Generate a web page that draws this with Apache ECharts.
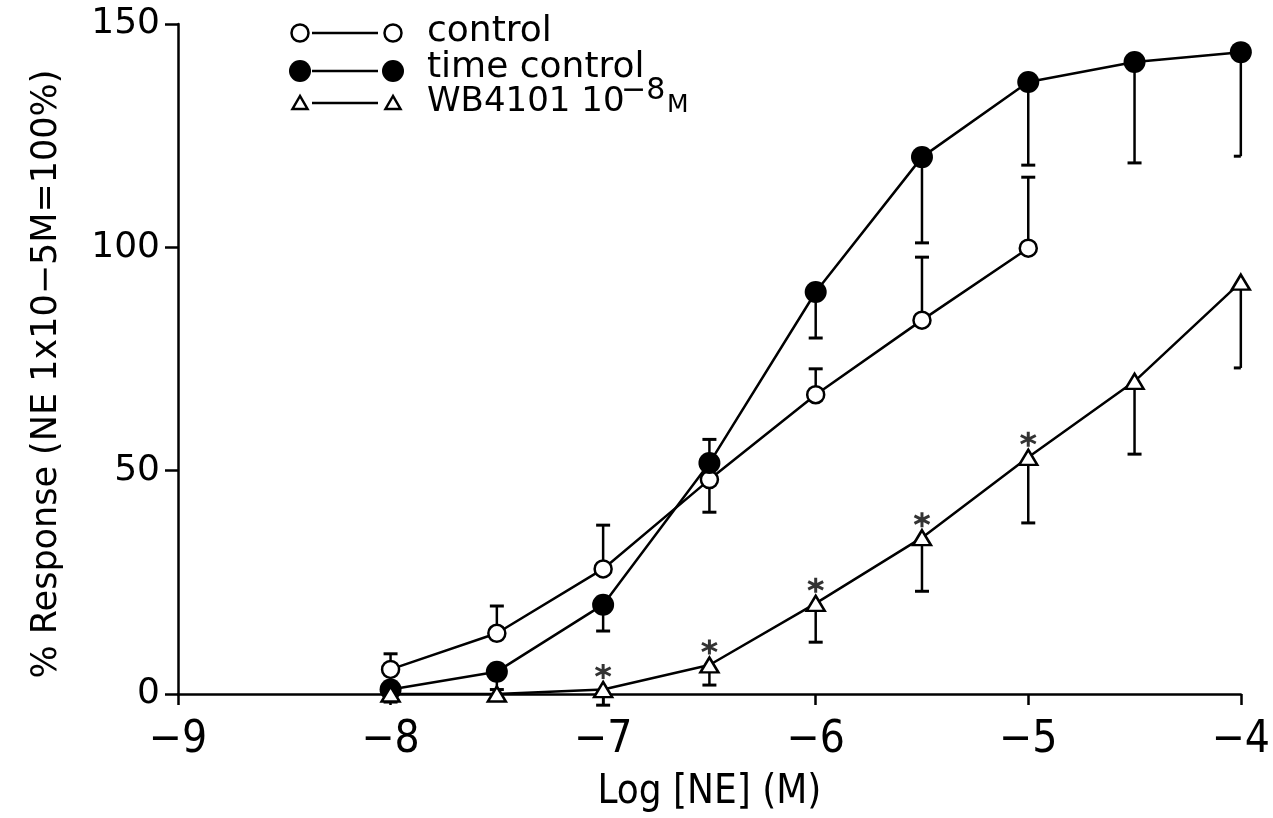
<!DOCTYPE html>
<html>
<head>
<meta charset="utf-8">
<script src="https://cdn.jsdelivr.net/npm/echarts@6/dist/echarts.min.js"></script>
<style>
  html, body { margin: 0; padding: 0; background: #fff; }
  #chart { width: 1273px; height: 818px; }
</style>
</head>
<body>
<div id="chart"></div>
<script>
// log concentrations of NE (M)
var xLog = [-8, -7.5, -7, -6.5, -6, -5.5, -5, -4.5, -4]

// % response
var control = [5.5, 13.6, 28, 48, 67, 83.7, 99.8]
var controlErr = [9, 19.7, 37.8, 40.7, 72.8, 97.8, 115.7]
var timeControl = [1, 5, 20, 51.7, 90, 120.2, 137, 141.5, 143.7]
var timeControlErr = [-1.8, 1, 14.1, 57, 79.7, 101, 118.4, 118.9, 120.4]
var wb4101 = [0, 0, 1, 6.5, 20.3, 35, 53, 70, 92.2]
var wb4101Err = [null, null, -2.5, 2, 11.6, 23, 38.3, 53.7, 73]
// points marked significant (*)
var starX = [-7, -6.5, -6, -5.5, -5]

var yTicks = [0, 50, 100, 150]
var xTicks = [-9, -8, -7, -6, -5, -4]

var FONT = 'DejaVu Sans'
var NARROW = '"Liberation Sans Narrow", "DejaVu Sans Condensed", "Liberation Sans"'

function pairs(vals) {
  return vals.map(function(v, i) { return [xLog[i], v] })
}
function errData(vals, errs) {
  var out = []
  for (var i = 0; i < vals.length; i++) {
    if (errs[i] != null) out.push([xLog[i], vals[i], errs[i]])
  }
  return out
}

function errRender(params, api) {
  var x = api.value(0)
  var p0 = api.coord([x, api.value(1)])
  var p1 = api.coord([x, api.value(2)])
  var half = 7
  var right = x >= xTicks[xTicks.length - 1] ? 0 : half
  return {
    type: 'group',
    children: [
      { type: 'line', shape: { x1: p0[0], y1: p0[1], x2: p1[0], y2: p1[1] }, style: { stroke: '#000', lineWidth: 2.5 } },
      { type: 'line', shape: { x1: p1[0] - half, y1: p1[1], x2: p1[0] + right, y2: p1[1] }, style: { stroke: '#000', lineWidth: 3 } }
    ]
  }
}

function errSeries(vals, errs) {
  return {
    type: 'custom',
    renderItem: errRender,
    data: errData(vals, errs),
    z: 1,
    silent: true
  }
}

function lineSeries(name, vals, symbol, size, fill) {
  return {
    name: name,
    type: 'line',
    data: pairs(vals),
    symbol: symbol,
    symbolSize: size,
    showAllSymbol: true,
    lineStyle: { color: '#000', width: 2.5 },
    itemStyle: { color: fill, borderColor: '#000', borderWidth: fill === '#000' ? 0 : 2.5 },
    z: 3,
    silent: true
  }
}

var starPath = 'path://M0,-1L0,1M-0.866,-0.5L0.866,0.5M-0.866,0.5L0.866,-0.5'

// legend drawn by hand: marker, line, marker, text
function legendRow(y, kind) {
  var items = []
  var xs = [300, 393]
  items.push({ type: 'line', shape: { x1: 312, y1: y, x2: 378, y2: y }, style: { stroke: '#000', lineWidth: 2.5 } })
  xs.forEach(function(cx) {
    if (kind === 'open') {
      items.push({ type: 'circle', shape: { cx: cx, cy: y, r: 8.5 }, style: { fill: '#fff', stroke: '#000', lineWidth: 2.5 } })
    } else if (kind === 'filled') {
      items.push({ type: 'circle', shape: { cx: cx, cy: y, r: 11 }, style: { fill: '#000' } })
    } else {
      items.push({ type: 'polygon', shape: { points: [[cx, y - 7], [cx - 7.5, y + 6], [cx + 7.5, y + 6]] }, style: { fill: '#fff', stroke: '#000', lineWidth: 2.5 } })
    }
  })
  return items
}

var legendGraphics = []
  .concat(legendRow(33, 'open'))
  .concat(legendRow(71, 'filled'))
  .concat(legendRow(103, 'tri'))
  .concat([
    { type: 'text', x: 427, y: 32, style: { text: 'control', font: '36px ' + FONT, fill: '#000', verticalAlign: 'middle' } },
    { type: 'text', x: 427, y: 68, style: { text: 'time control', font: '36px ' + FONT, fill: '#000', verticalAlign: 'middle' } },
    { type: 'text', x: 427, y: 102, style: { text: 'WB4101 10', font: '34px ' + FONT, fill: '#000', verticalAlign: 'middle' } },
    { type: 'text', x: 621, y: 91, style: { text: '\u22128', font: '30px ' + FONT, fill: '#000', verticalAlign: 'middle' } },
    { type: 'text', x: 667, y: 105, style: { text: 'M', font: '25px ' + FONT, fill: '#000', verticalAlign: 'middle' } }
  ])

var chart = echarts.init(document.getElementById('chart'))
chart.setOption({
  backgroundColor: '#fff',
  animation: false,
  grid: { left: 178, right: 26, top: 24, bottom: 124, containLabel: false },
  xAxis: {
    type: 'value',
    min: xTicks[0],
    max: xTicks[xTicks.length - 1],
    interval: 1,
    name: 'Log [NE] (M)',
    nameLocation: 'middle',
    nameGap: 79,
    nameTextStyle: { fontFamily: NARROW, fontSize: 40, color: '#000' },
    axisLine: { onZero: false, lineStyle: { color: '#000', width: 2.5 } },
    axisTick: { inside: false, length: 11, lineStyle: { color: '#000', width: 2.5 } },
    axisLabel: {
      margin: 25,
      fontFamily: NARROW,
      fontSize: 44,
      color: '#000',
      formatter: function(v) { return String(v).replace('-', '\u2212') }
    },
    splitLine: { show: false }
  },
  yAxis: {
    type: 'value',
    min: yTicks[0],
    max: yTicks[yTicks.length - 1],
    interval: 50,
    name: '% Response (NE 1x10\u22125M=100%)',
    nameLocation: 'middle',
    nameGap: 114,
    nameRotate: 90,
    nameTextStyle: { fontFamily: FONT, fontSize: 35, color: '#000', padding: [0, 30, 0, 0] },
    axisLine: { show: true, lineStyle: { color: '#000', width: 2.5 } },
    axisTick: { inside: false, length: 13, lineStyle: { color: '#000', width: 2.5 } },
    axisLabel: { margin: 18, fontFamily: FONT, fontSize: 36, color: '#000' },
    splitLine: { show: false }
  },
  graphic: legendGraphics,
  series: [
    errSeries(control, controlErr),
    errSeries(timeControl, timeControlErr),
    errSeries(wb4101, wb4101Err),
    lineSeries('control', control, 'circle', 17, '#fff'),
    lineSeries('time control', timeControl, 'circle', 22, '#000'),
    lineSeries('WB4101 10-8M', wb4101, 'triangle', [18, 15], '#fff'),
    {
      type: 'scatter',
      data: starX.map(function(x) { return [x, wb4101[xLog.indexOf(x)]] }),
      symbol: starPath,
      symbolSize: 15,
      symbolOffset: [0, -18],
      itemStyle: { color: 'none', borderColor: '#000', borderWidth: 3 },
      z: 4,
      silent: true
    }
  ]
})
</script>
</body>
</html>
